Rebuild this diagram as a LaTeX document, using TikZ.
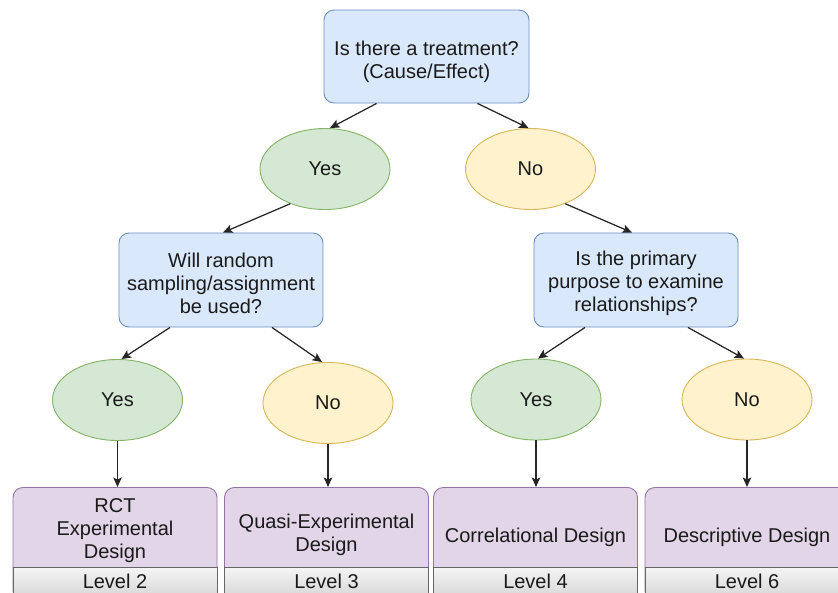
\documentclass[tikz,border=0pt]{standalone}
\usepackage{fontspec}
\setmainfont{Liberation Sans}
\usetikzlibrary{arrows.meta,shapes.geometric}
\definecolor{bluefill}{HTML}{DAE8FC}\definecolor{bluedraw}{HTML}{6C8EBF}
\definecolor{greenfill}{HTML}{D5E8D4}\definecolor{greendraw}{HTML}{82B366}
\definecolor{yellowfill}{HTML}{FFF2CC}\definecolor{yellowdraw}{HTML}{D6B656}
\definecolor{purplefill}{HTML}{E1D5E7}\definecolor{purpledraw}{HTML}{9673A6}
\definecolor{graytop}{HTML}{F5F5F5}\definecolor{graybot}{HTML}{D4D4D4}
\definecolor{graydraw}{HTML}{666666}
\definecolor{txt}{HTML}{1A1A1A}
\begin{document}
\begin{tikzpicture}[x=1pt,y=-1pt,
  every node/.style={font=\fontsize{20}{23}\selectfont, text=txt, align=center, inner sep=0pt},
  qbox/.style={rectangle, rounded corners=10pt, draw=bluedraw, fill=bluefill, line width=0.9pt, minimum width=204pt, minimum height=94pt},
  yesell/.style={ellipse, draw=greendraw, fill=greenfill, line width=0.9pt, minimum width=130pt, minimum height=81pt},
  noell/.style={ellipse, draw=yellowdraw, fill=yellowfill, line width=0.9pt, minimum width=130pt, minimum height=81pt},
  dbox/.style={rectangle, rounded corners=10pt, draw=purpledraw, fill=purplefill, line width=0.9pt, minimum width=204pt, minimum height=113pt, anchor=north},
  lvbar/.style={rectangle, draw=graydraw, top color=graytop, bottom color=graybot, line width=0.9pt, minimum width=204pt, minimum height=33pt, anchor=north},
  lvtext/.style={anchor=base, text depth=0pt, text height=14pt},
  arr/.style={draw=black!85, line width=1.25pt, -{Stealth[length=9.5pt,width=8.5pt,inset=2pt]}}
]
\useasboundingbox (0,0) rectangle (838,592);
\clip (0,0) rectangle (838,592);

% question boxes
\node[qbox, minimum width=205pt, minimum height=93pt] (T) at (426.5,56.5) {};
\node (Tt) at (426.5,61.5) {Is there a treatment?\\(Cause/Effect)};
\node[qbox] (W) at (221,280) {};
\node (Wt) at (221,283.5) {Will random\\sampling/assignment\\be used?};
\node[qbox] (P) at (636,280) {};
\node (Pt) at (636,283.5) {Is the primary\\purpose to examine\\relationships?};

% answer ellipses
\node[yesell] (Y1) at (325,169) {Yes};
\node[noell] (N1) at (530.5,169) {No};
\node[yesell] (Y2) at (117.5,400) {Yes};
\node[noell] (N2) at (328,403) {No};
\node[yesell] (Y3) at (536,399.5) {Yes};
\node[noell] (N3) at (747,399.5) {No};

% design boxes
\node[dbox] (D1) at (115,487) {};
\node[dbox] (D2) at (326.5,487) {};
\node[dbox] (D3) at (535.5,487) {};
\node[dbox] (D4) at (747,487) {};
\node (D1t) at (115,531) {RCT\\Experimental\\Design};
\node (D2t) at (326.5,535) {Quasi-Experimental\\Design};
\node (D3t) at (535.5,537) {Correlational Design};
\node (D4t) at (747,537) {Descriptive Design};
\node[lvbar] (L1) at (115,567) {};
\node[lvbar] (L2) at (326.5,567) {};
\node[lvbar] (L3) at (535.5,567) {};
\node[lvbar] (L4) at (747,567) {};
\node[lvtext] (L1t) at (115,588) {Level 2};
\node[lvtext] (L2t) at (326.5,588) {Level 3};
\node[lvtext] (L3t) at (535.5,588) {Level 4};
\node[lvtext] (L4t) at (747,588) {Level 6};

% connectors
\draw[arr] ([xshift=-50pt]T.south) -- ([xshift=5pt]Y1.north);
\draw[arr] ([xshift=51pt]T.south) -- ([xshift=-2pt]N1.north);
\draw[arr] (Y1.225) -- ([xshift=2pt]W.north);
\draw[arr] (N1.-45) -- ([xshift=-4pt]P.north);
\draw[arr] ([xshift=-51pt]W.south) -- ([xshift=4pt]Y2.north);
\draw[arr] ([xshift=51pt]W.south) -- ([xshift=-6pt]N2.north);
\draw[arr] ([xshift=-51pt]P.south) -- ([xshift=2pt]Y3.north);
\draw[arr] ([xshift=52pt]P.south) -- ([xshift=-3pt]N3.north);
\draw[arr] (Y2.south) -- (Y2.south |- D1.north);
\draw[arr] (N2.south) -- (N2.south |- D2.north);
\draw[arr] (Y3.south) -- (Y3.south |- D3.north);
\draw[arr] (N3.south) -- (N3.south |- D4.north);
\end{tikzpicture}
\end{document}
